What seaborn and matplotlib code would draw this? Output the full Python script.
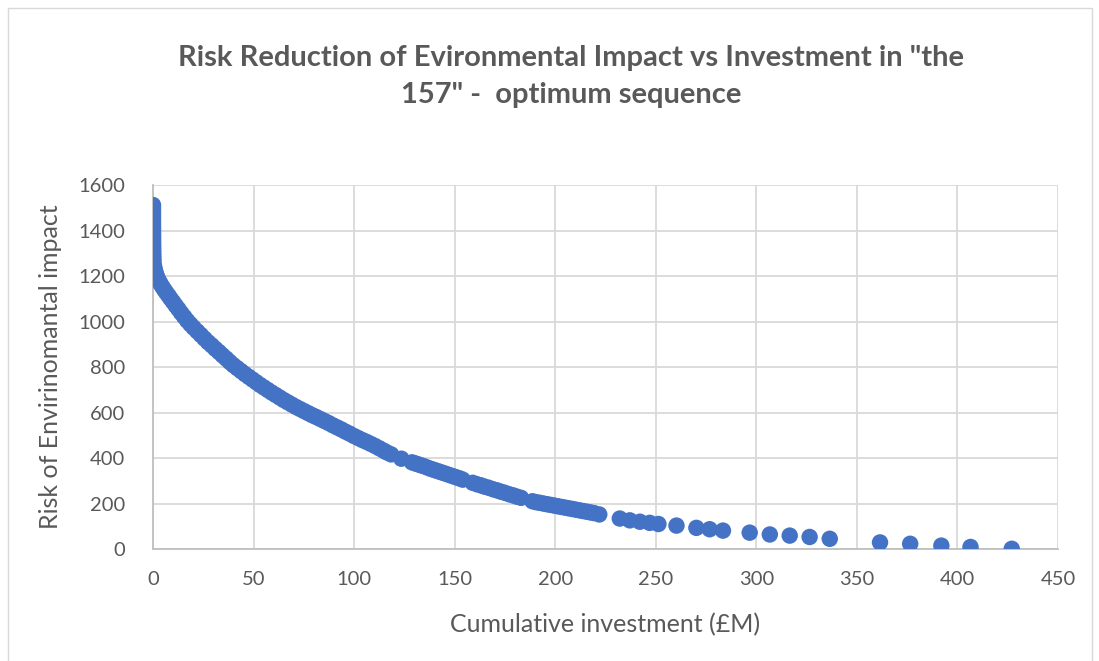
import matplotlib
matplotlib.use("Agg")
import matplotlib.pyplot as plt
import matplotlib.patches as mpatches
import pandas as pd
import seaborn as sns

# Cumulative investment (£M) after each scheme in the optimum sequence
investment = [
    0.0, 0.0, 0.0, 0.01, 0.01, 0.02, 0.02, 0.03, 0.04, 0.05, 0.06, 0.07, 0.08,
    0.1, 0.12, 0.14, 0.17, 0.2, 0.25,
    0.5, 0.8, 1.2, 1.7, 2.3, 3.0, 3.8, 4.7, 5.6, 6.6, 7.7, 8.8, 10.0, 11.3,
    12.6, 14.0, 15.5, 17.0, 18.6,
    20.2, 22.0, 23.8, 25.6, 27.4, 29.2, 31.0, 32.8, 34.6, 36.4, 38.2, 40.0,
    41.9, 43.8, 45.7, 47.6, 49.5, 51.4, 53.3, 55.2, 57.1, 59.0, 61.0, 63.0,
    65.0, 67.0, 69.0, 71.0, 73.0, 75.0, 77.0, 79.0, 81.0, 83.1, 85.2, 87.3,
    89.4, 91.5, 93.6, 95.7, 97.8, 99.9,
    102.0, 104.1, 106.2, 108.3, 110.4, 112.5, 114.6, 116.2,
    118.4, 123.5, 128.8,
    130.5, 132.2, 133.9, 135.6, 137.3, 139.0, 140.7, 142.4, 144.1, 145.8,
    147.5, 149.2, 150.9, 152.6, 154.0,
    159.0, 161.0, 163.0, 165.0, 167.0, 169.0, 171.0, 173.0, 175.0, 177.0,
    179.0, 181.0, 183.0,
    188.7, 190.5, 192.3, 194.1, 195.9, 197.7, 199.5, 201.3, 203.1, 204.9,
    206.7, 208.5, 210.3, 212.1, 213.9, 215.7, 217.5, 219.3, 221.9,
    232.1, 237.1, 242.1, 247.0, 251.3, 260.3, 270.2, 276.8, 283.4, 296.7,
    306.7, 316.6, 326.5, 336.5, 361.5, 376.5, 392.0, 406.5, 427.0,
]

# Remaining risk of environmental impact after each scheme
risk = [
    1512, 1498, 1484, 1470, 1456, 1442, 1428, 1414, 1400, 1386, 1372, 1358, 1344,
    1330, 1316, 1302, 1289, 1276, 1263,
    1245, 1232, 1218, 1204, 1190, 1178, 1165, 1152, 1140, 1127, 1114, 1100, 1086, 1070,
    1055, 1038, 1021, 1004, 988,
    973, 957, 941, 925, 909, 895, 880, 866, 851, 837, 822, 808,
    795, 782, 769, 757, 745, 733, 721, 710, 699, 688, 677, 666,
    655, 645, 635, 625, 616, 607, 598, 589, 581, 572, 563, 554,
    544, 535, 526, 516, 507, 497,
    488, 479, 471, 462, 453, 443, 433, 425,
    416, 397, 381,
    376, 371, 366, 361, 355, 350, 345, 340, 335, 330,
    325, 320, 315, 310, 305,
    291, 285, 280, 274, 269, 263, 258, 252, 247, 241,
    236, 230, 225,
    210, 206, 203, 200, 197, 194, 191, 188, 185, 182,
    179, 176, 173, 170, 167, 164, 161, 158, 152,
    134, 126, 120, 115, 110, 103, 93, 87, 81, 72,
    64, 59, 53, 45, 29, 23, 15, 9, 1,
]

x_ticks = [0, 50, 100, 150, 200, 250, 300, 350, 400, 450]
y_ticks = [0, 200, 400, 600, 800, 1000, 1200, 1400, 1600]

title = 'Risk Reduction of Evironmental Impact vs Investment in "the\n157" -  optimum sequence'
x_label = "Cumulative investment (£M)"
y_label = "Risk of Envirinomantal impact"

df = pd.DataFrame({"investment": investment, "risk": risk})

sns.set_theme(style="white")
plt.rcParams["font.family"] = ["Lato", "DejaVu Sans"]

TEXT = "#595959"
GRID = "#D9D9D9"
AXIS = "#BFBFBF"
BLUE = "#4472C4"

fig = plt.figure(figsize=(10.99, 6.61), dpi=100)
ax = fig.add_axes([0.1392, 0.1694, 0.8235, 0.5507])

sns.scatterplot(data=df, x="investment", y="risk", ax=ax, color=BLUE,
                s=140, linewidth=0, edgecolor="none", zorder=3, legend=False)

ax.set_xlim(0, 450)
ax.set_ylim(0, 1600)
ax.set_xticks(x_ticks)
ax.set_yticks(y_ticks)
ax.set_xticklabels([str(t) for t in x_ticks])
ax.set_yticklabels([str(t) for t in y_ticks])
ax.tick_params(axis="both", length=0, colors=TEXT, labelsize=14.5)
ax.tick_params(axis="x", pad=16)
ax.tick_params(axis="y", pad=20)

ax.grid(True, color=GRID, linewidth=1.3, zorder=0)
ax.set_axisbelow(True)
for side in ["top", "right"]:
    ax.spines[side].set_visible(False)
for side in ["left", "bottom"]:
    ax.spines[side].set_color(AXIS)
    ax.spines[side].set_linewidth(1.3)

ax.set_xlabel(x_label, fontsize=18, color=TEXT, labelpad=18)
ax.set_ylabel(y_label, fontsize=18, color=TEXT, labelpad=12)

fig.text(0.520, 0.884, title, ha="center", va="center", fontsize=21,
         fontweight="bold", color=TEXT, linespacing=1.55)

# light chart-area border
fig.patches.append(mpatches.Rectangle((8 / 1099, -0.05), (1092 - 8) / 1099, 1.05 - 8 / 661,
                                      transform=fig.transFigure, fill=False,
                                      edgecolor=GRID, linewidth=1.0))

fig.savefig("out.png", dpi=100, facecolor="white")
